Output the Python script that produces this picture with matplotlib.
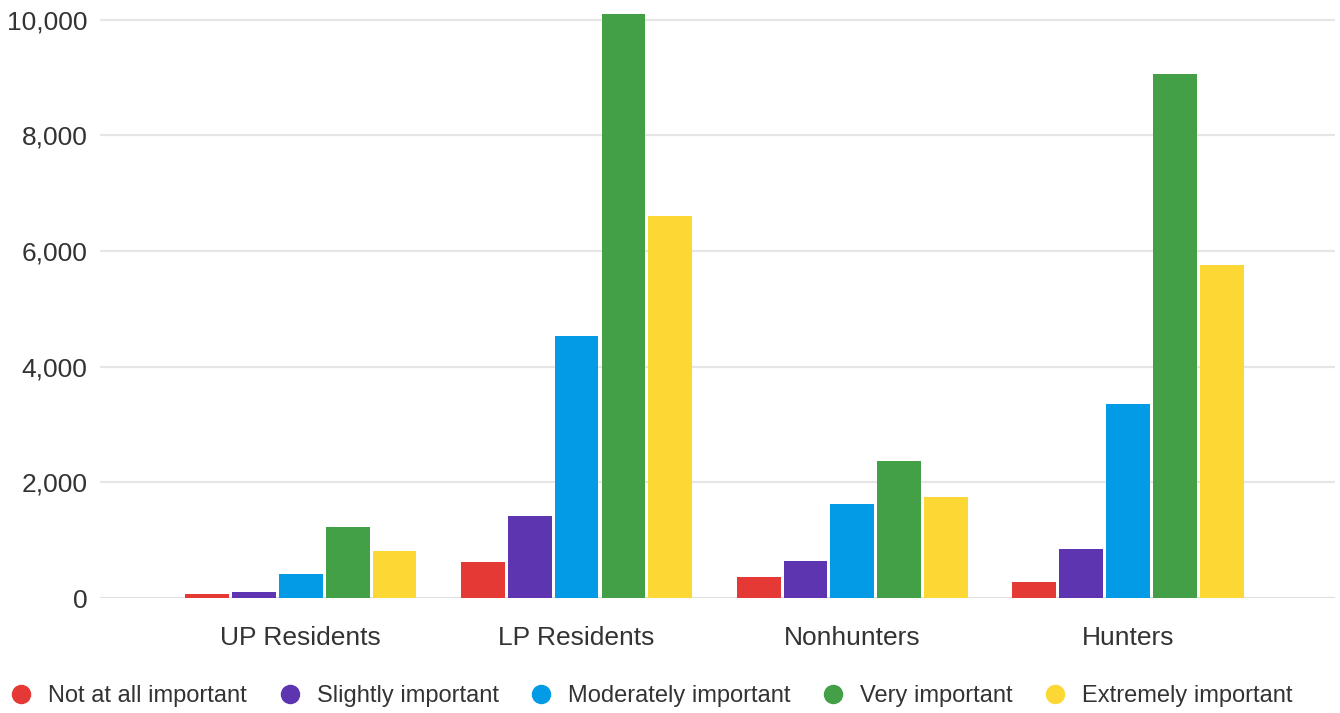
import numpy as np
import matplotlib.pyplot as plt
from matplotlib.lines import Line2D

plt.rcParams['font.family'] = ['Liberation Sans', 'DejaVu Sans']

categories = ["UP Residents", "LP Residents", "Nonhunters", "Hunters"]
series_names = ["Not at all important", "Slightly important", "Moderately important",
                "Very important", "Extremely important"]
not_at_all = [65, 620, 370, 285]
slightly = [100, 1410, 645, 855]
moderately = [410, 4525, 1630, 3350]
very = [1220, 10100, 2375, 9060]
extremely = [805, 6600, 1750, 5750]
colors = ["#E53935", "#5E35B1", "#039BE5", "#43A047", "#FDD835"]

values = [not_at_all, slightly, moderately, very, extremely]

fig = plt.figure(figsize=(13.4, 7.13), dpi=100)
ax = fig.add_axes([100 / 1340, 115 / 713, 1235 / 1340, (598 - 13.8) / 713])

x = np.arange(len(categories))
pitch = 0.170
width = 0.159
for i, (name, vals) in enumerate(zip(series_names, values)):
    ax.bar(x + (i - 2) * pitch, vals, width, color=colors[i], label=name, zorder=3)

ax.set_xlim(-0.728, 3.75)
ax.set_ylim(0, 10100)
ax.set_yticks([0, 2000, 4000, 6000, 8000, 10000])
ax.set_yticklabels(["{:,}".format(v) for v in [0, 2000, 4000, 6000, 8000, 10000]])
ax.set_xticks(x)
ax.set_xticklabels(categories)
ax.grid(axis='y', color='#e6e6e6', linewidth=1.6, zorder=0)
ax.axhline(0, color='#e0e0e0', linewidth=2, zorder=2)
for s in ax.spines.values():
    s.set_visible(False)
ax.tick_params(axis='both', length=0, labelsize=19, colors='#333333')
ax.tick_params(axis='y', pad=9)
ax.tick_params(axis='x', pad=20.5)

handles = [Line2D([], [], marker='o', linestyle='', markersize=13, color=c) for c in colors]
fig.legend(handles, series_names, loc='center', bbox_to_anchor=(651 / 1340, 1 - 696 / 713),
           ncol=5, frameon=False, fontsize=17, labelcolor='#333333',
           handletextpad=0.64, columnspacing=1.3, handlelength=1.0)

fig.savefig("out.png", dpi=100)
